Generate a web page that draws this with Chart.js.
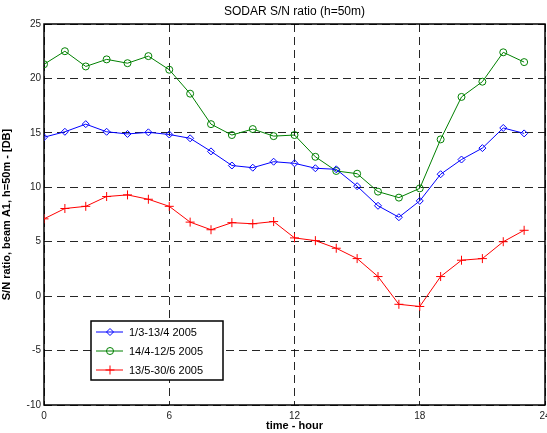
<!DOCTYPE html>
<html>
<head>
<meta charset="utf-8">
<script src="https://cdn.jsdelivr.net/npm/chart.js@4/dist/chart.umd.min.js"></script>
<style>
	html, body { margin: 0; padding: 0; background: #fff; }
	#wrap { width: 547px; height: 433px; position: relative; }
</style>
</head>
<body>
<div id="wrap"><canvas id="c"></canvas></div>
<script>
// hours of the day
const hours = [0, 1, 2, 3, 4, 5, 6, 7, 8, 9, 10, 11, 12, 13, 14, 15, 16, 17, 18, 19, 20, 21, 22, 23];

// S/N ratio [dB], one array per period
const period1 = [14.6, 15.1, 15.8, 15.1, 14.9, 15.05, 14.85, 14.5, 13.3, 12.0, 11.8, 12.35, 12.2, 11.75, 11.65, 10.1, 8.3, 7.25, 8.75, 11.2, 12.55, 13.6, 15.45, 14.95];
const period2 = [21.3, 22.5, 21.1, 21.75, 21.4, 22.05, 20.8, 18.6, 15.8, 14.8, 15.35, 14.7, 14.8, 12.8, 11.5, 11.25, 9.6, 9.05, 9.9, 14.4, 18.3, 19.7, 22.4, 21.5];
const period3 = [7.1, 8.05, 8.25, 9.15, 9.3, 8.9, 8.25, 6.8, 6.1, 6.75, 6.65, 6.85, 5.35, 5.1, 4.4, 3.45, 1.8, -0.75, -0.95, 1.8, 3.3, 3.45, 5.0, 6.05];

const labels = ["1/3-13/4 2005", "14/4-12/5 2005", "13/5-30/6 2005"];
const xTicks = [0, 6, 12, 18, 24];
const yTicks = [-10, -5, 0, 5, 10, 15, 20, 25];

const titleText = "SODAR S/N ratio (h=50m)";
const xTitle = "time - hour";
const yTitle = "S/N ratio, beam A1, h=50m - [DB]";

function pts(vals) {
	return hours.map((h, i) => ({ x: h, y: vals[i] }));
}

function series(label, vals, color, style, radius) {
	return {
		label: label,
		data: pts(vals),
		borderColor: color,
		backgroundColor: "rgba(0,0,0,0)",
		borderWidth: 1,
		pointStyle: style,
		pointRadius: radius,
		pointBorderColor: color,
		pointBackgroundColor: "rgba(0,0,0,0)",
		pointBorderWidth: 1,
		tension: 0
	};
}

const frame = {
	id: "frame",
	beforeDatasetsDraw(chart) {
		let ctx = chart.ctx, a = chart.chartArea;
		ctx.save();
		ctx.strokeStyle = "#000";
		ctx.lineWidth = 1.5;
		ctx.strokeRect(a.left, a.top, a.right - a.left, a.bottom - a.top);
		ctx.restore();
	},
	afterDraw(chart) {
		let ctx = chart.ctx, a = chart.chartArea;
		ctx.save();
		// title
		ctx.fillStyle = "#000";
		ctx.font = "12px 'Liberation Sans', Arial, sans-serif";
		ctx.textAlign = "center";
		ctx.textBaseline = "middle";
		ctx.fillText(titleText, (a.left + a.right) / 2, 12);

		// legend box
		let bx = 91, by = 321, bw = 132, bh = 59;
		ctx.fillStyle = "#fff";
		ctx.fillRect(bx, by, bw, bh);
		ctx.strokeStyle = "#000";
		ctx.lineWidth = 1.5;
		ctx.strokeRect(bx, by, bw, bh);
		ctx.font = "11px 'Liberation Sans', Arial, sans-serif";
		ctx.textAlign = "left";
		chart.data.datasets.forEach((ds, i) => {
			let y = 332 + i * 19;
			ctx.strokeStyle = ds.borderColor;
			ctx.lineWidth = 1;
			ctx.beginPath();
			ctx.moveTo(96, y);
			ctx.lineTo(123, y);
			ctx.stroke();
			ctx.fillStyle = "rgba(0,0,0,0)";
			Chart.helpers.drawPoint(ctx, {
				pointStyle: ds.pointStyle,
				radius: ds.pointRadius,
				rotation: 0,
				borderWidth: 1
			}, 110, y);
			ctx.fillStyle = "#000";
			ctx.fillText(ds.label, 129, y + 1);
		});
		ctx.restore();
	}
};

const gridDash = {
	color: "rgba(0,0,0,0.85)",
	lineWidth: 1,
	drawTicks: false,
	tickLength: 0
};

new Chart(document.getElementById("c"), {
	type: "line",
	data: {
		datasets: [
			series(labels[0], period1, "#0000ff", "rectRot", 3.5),
			series(labels[1], period2, "#008000", "circle", 3.5),
			series(labels[2], period3, "#ff0000", "cross", 4.5)
		]
	},
	options: {
		responsive: true,
		maintainAspectRatio: false,
		animation: false,
		layout: { autoPadding: false, padding: { left: 0, right: 2, top: 24, bottom: 0 } },
		plugins: {
			legend: { display: false },
			title: { display: false },
			tooltip: { enabled: false }
		},
		scales: {
			x: {
				type: "linear",
				min: 0,
				max: 24,
				afterBuildTicks: (s) => { s.ticks = xTicks.map(v => ({ value: v })); },
				afterFit: (s) => { s.height = 28; s.paddingLeft = 0; s.paddingRight = 0; },
				border: { display: false, dash: [8, 5] },
				grid: gridDash,
				ticks: {
					color: "#222",
					padding: 5,
					maxRotation: 0,
					autoSkip: false,
					font: { family: "'Liberation Sans', Arial, sans-serif", size: 10 }
				},
				title: {
					display: true,
					text: xTitle,
					color: "#000",
					padding: { top: 0, bottom: 0 },
					font: { family: "'Liberation Sans', Arial, sans-serif", size: 11, weight: "bold" }
				}
			},
			y: {
				type: "linear",
				min: -10,
				max: 25,
				afterBuildTicks: (s) => { s.ticks = yTicks.map(v => ({ value: v })); },
				afterFit: (s) => { s.width = 44; s.paddingTop = 0; s.paddingBottom = 0; },
				border: { display: false, dash: [8, 5] },
				grid: gridDash,
				ticks: {
					color: "#222",
					padding: 3,
					autoSkip: false,
					font: { family: "'Liberation Sans', Arial, sans-serif", size: 10 }
				},
				title: {
					display: true,
					text: yTitle,
					color: "#000",
					padding: { top: 0, bottom: 4 },
					font: { family: "'Liberation Sans', Arial, sans-serif", size: 11, weight: "bold" }
				}
			}
		}
	},
	plugins: [frame]
});
</script>
</body>
</html>
